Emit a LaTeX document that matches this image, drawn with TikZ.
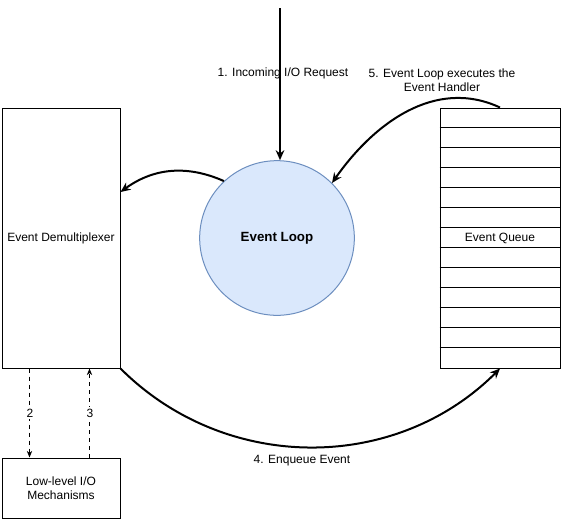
\documentclass[tikz,border=0pt]{standalone}
\usepackage{fontspec}
\setmainfont{Liberation Sans}
\usetikzlibrary{arrows.meta,calc}

\definecolor{loopfill}{HTML}{DAE8FC}
\definecolor{loopline}{HTML}{6C8EBF}

\tikzset{boite/.style = {draw, line width = 0.75pt, inner sep = 0pt,
                         minimum width = 88.5pt, align = center},
         boucle/.style = {circle, draw = loopline, fill = loopfill, line width = 0.75pt,
                          minimum size = 116pt, font = \bfseries},
         fleche/.style = {line width = 1.5pt, -{Stealth[length = 7.5pt, width = 6.5pt]}},
         pointille/.style = {dashed, line width = 0.6pt, -{Stealth[length = 5pt, width = 4pt]}},
         etiquette/.style = {align = center, inner sep = 1pt}
        }

\begin{document}
\begin{tikzpicture}[x = 0.75pt, y = 0.75pt, font = \fontsize{9}{10.5}\selectfont]
  \useasboundingbox (0, 0) rectangle (561, -529);
  % boites
  \node[boite, minimum height = 195pt] (demux) at (61, -238) {Event Demultiplexer};
  \node[boite, minimum height = 45pt] (lowio) at (61, -488) {Low-level I/O\\Mechanisms};
  \node[boite, minimum width = 90pt, minimum height = 195pt] (queue) at (500, -238) {Event Queue};
  \foreach \i in {1, ..., 12}
    \draw[line width = 0.75pt] ($(queue.north west) + (0, -20*\i)$) -- ++(120, 0);
  \node[boucle] (loop) at (277, -238) {Event Loop};
  \coordinate (request) at (280, -8);
  % fleches
  \draw[fleche] (request) -- (request |- loop.north);
  \draw[fleche] (loop.133) to[bend right = 30] ($(demux.east) + (0, 46)$);
  \draw[fleche] (queue.north) to[out = 155, in = 55] (loop.45);
  \draw[fleche] (demux.south east) to[out = -45, in = -135] (queue.south);
  \draw[pointille] ($(demux.south west) + (28, 0)$) -- ($(lowio.north west) + (28, 0)$);
  \draw[pointille] ($(lowio.north west) + (88, 0)$) -- ($(demux.south west) + (88, 0)$);
  % etiquettes
  \node[etiquette] (lab1) at (283, -73) {1. Incoming I/O Request};
  \node[etiquette, fill = white] (lab2) at (30, -413) {2};
  \node[etiquette, fill = white] (lab3) at (90, -413) {3};
  \node[etiquette] (lab4) at (302, -461) {4. Enqueue Event};
  \node[etiquette] (lab5) at (442, -80) {5. Event Loop executes the\\Event Handler};
\end{tikzpicture}
\end{document}
